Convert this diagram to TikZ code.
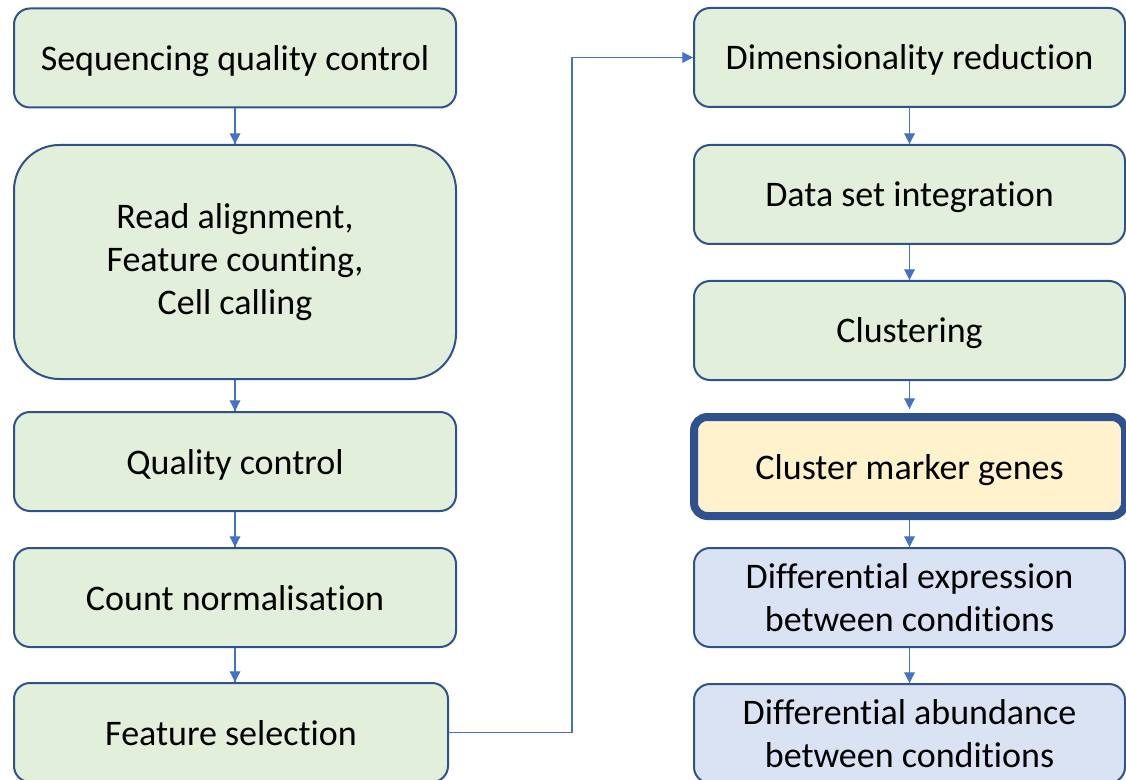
\documentclass[tikz,border=0pt]{standalone}
\usepackage{fontspec}
\setmainfont{Carlito}[Ligatures=NoCommon]
\definecolor{edgeblue}{HTML}{2F528F}
\definecolor{linkblue}{HTML}{4472C4}
\definecolor{stepgreen}{HTML}{E2EFDA}
\definecolor{stepyellow}{HTML}{FFF2CC}
\definecolor{stepblue}{HTML}{DAE3F3}
\tikzset{flow/.style = {decoration={markings, mark=at position 1 with {\arrow{Triangle[length=8pt,width=8pt]}}}, postaction={decorate}}}
\tikzset{box/.style = {draw=edgeblue, line width=1.5pt, rounded corners=12pt, align=center, text depth=0pt,
                       font=\fontsize{27}{32.5}\selectfont, minimum height=74.25pt},
         leftbox/.style = {box, fill=stepgreen, minimum width=331.5pt},
         rightbox/.style = {box, minimum width=323.25pt},
         link/.style = {linkblue, line width=0.9pt}}
\usetikzlibrary{arrows.meta,
                 decorations.markings}

\begin{document}
\begin{tikzpicture}[x=0.75pt, y=-0.75pt]
	\useasboundingbox (0,0) rectangle (1126,780);
	\clip (0,0) rectangle (1126,780);
% left column
\node [leftbox] (seqqc) at (235,58) {Sequencing quality control};
\node [leftbox, text depth=, minimum height=175.5pt, rounded corners=34pt] (align) at (235,262) {Read alignment,\\Feature counting,\\Cell calling};
\node [leftbox] (qc) at (235,461.5) {Quality control};
\node [leftbox] (norm) at (235,597.5) {Count normalisation};
\node [leftbox, minimum width=325.5pt] (featsel) at (231,732.5) {Feature selection};
% right column
\node [rightbox, fill=stepgreen] (dimred) at (909.5,57.5) {Dimensionality reduction};
\node [rightbox, fill=stepgreen] (integ) at (909.5,194.5) {Data set integration};
\node [rightbox, fill=stepgreen] (clust) at (909.5,330.5) {Clustering};
\node [rightbox, fill=stepyellow, line width=6pt, rounded corners=10pt] (marker) at (909.5,466.5) {Cluster marker genes};
\node [rightbox, fill=stepblue, text depth=] (diffexp) at (909.5,597.5) {Differential expression\\between conditions};
\node [rightbox, fill=stepblue, text depth=] (diffab) at (909.5,733.5) {Differential abundance\\between conditions};
% links
\draw [link, flow] (seqqc) -- (align);
\draw [link, flow] (align) -- (qc);
\draw [link, flow] (qc) -- (norm);
\draw [link, flow] (norm.south) -- (norm.south |- featsel.north);
\draw [link, flow] (featsel.east) -- ++(123,0) |- (dimred.west);
\draw [link, flow] (dimred) -- (integ);
\draw [link, flow] (integ) -- (clust);
\draw [link, flow] (clust) -- ([yshift=3pt]marker.north);
\draw [link, flow] (marker) -- (diffexp);
\draw [link, flow] (diffexp) -- (diffab);
\end{tikzpicture}
\end{document}
